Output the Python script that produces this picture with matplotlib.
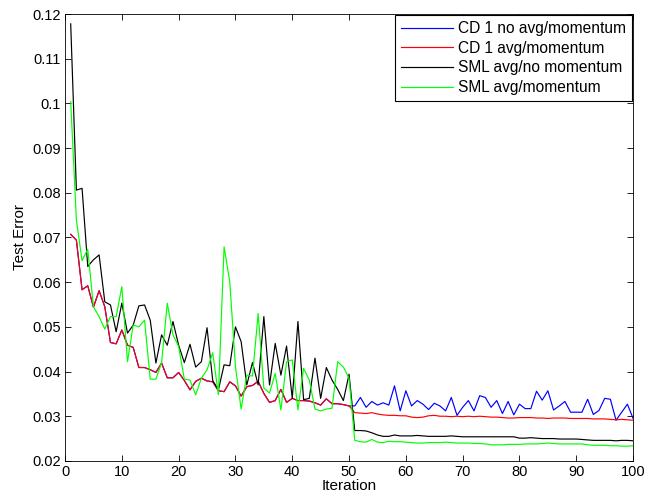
import numpy as np
import matplotlib
matplotlib.use("Agg")
import matplotlib.pyplot as plt
from matplotlib.ticker import FuncFormatter

# test error per iteration
iterations = np.arange(1, 101)

cd1_first = [0.0707, 0.0694, 0.0583, 0.0592, 0.0544, 0.0581, 0.0545, 0.0465, 0.0462, 0.0493,
             0.0459, 0.0454, 0.0409, 0.0409, 0.0404, 0.0398, 0.0419, 0.0386, 0.0386, 0.0398,
             0.0380, 0.0359, 0.0378, 0.0385, 0.0379, 0.0377, 0.0357, 0.0355, 0.0377, 0.0368,
             0.0345, 0.0366, 0.0369, 0.0378, 0.0351, 0.0331, 0.0335, 0.0360, 0.0331, 0.0340,
             0.0335, 0.0335, 0.0334, 0.0330, 0.0325, 0.0339, 0.0328, 0.0328, 0.0326, 0.0323]

cd1_no_avg = cd1_first + [
    0.0323, 0.0342, 0.0320, 0.0333, 0.0325, 0.0330, 0.0325, 0.0368, 0.0312, 0.0357,
    0.0323, 0.0335, 0.0327, 0.0315, 0.0329, 0.0323, 0.0312, 0.0342, 0.0302, 0.0320,
    0.0335, 0.0312, 0.0346, 0.0342, 0.0320, 0.0335, 0.0306, 0.0333, 0.0303, 0.0327,
    0.0317, 0.0317, 0.0356, 0.0336, 0.0357, 0.0314, 0.0323, 0.0333, 0.0309, 0.0309,
    0.0309, 0.0338, 0.0304, 0.0313, 0.0340, 0.0338, 0.0291, 0.0309, 0.0327, 0.0295]

cd1_avg = cd1_first + [
    0.0308, 0.0307, 0.0306, 0.0308, 0.0305, 0.0303, 0.0302, 0.0302, 0.0301, 0.0301,
    0.0298, 0.0297, 0.0298, 0.0301, 0.0302, 0.0300, 0.0300, 0.0299, 0.0300, 0.0299,
    0.0300, 0.0299, 0.0300, 0.0299, 0.0298, 0.0298, 0.0297, 0.0296, 0.0296, 0.0297,
    0.0297, 0.0297, 0.0296, 0.0296, 0.0295, 0.0296, 0.0296, 0.0296, 0.0295, 0.0295,
    0.0295, 0.0295, 0.0294, 0.0294, 0.0294, 0.0293, 0.0292, 0.0293, 0.0292, 0.0291]

sml_no_mom = [0.1178, 0.0806, 0.0810, 0.0635, 0.0650, 0.0661, 0.0556, 0.0549, 0.0489, 0.0553,
              0.0486, 0.0504, 0.0547, 0.0549, 0.0515, 0.0419, 0.0482, 0.0459, 0.0512, 0.0459,
              0.0420, 0.0461, 0.0410, 0.0422, 0.0498, 0.0380, 0.0359, 0.0415, 0.0413, 0.0500,
              0.0467, 0.0370, 0.0420, 0.0370, 0.0523, 0.0370, 0.0463, 0.0392, 0.0457, 0.0340,
              0.0512, 0.0337, 0.0340, 0.0430, 0.0340, 0.0409, 0.0381, 0.0360, 0.0335, 0.0394,
              0.0268, 0.0268, 0.0267, 0.0263, 0.0258, 0.0255, 0.0255, 0.0258, 0.0256, 0.0256,
              0.0256, 0.0257, 0.0256, 0.0255, 0.0255, 0.0255, 0.0255, 0.0256, 0.0255, 0.0254,
              0.0254, 0.0254, 0.0254, 0.0254, 0.0254, 0.0254, 0.0254, 0.0254, 0.0254, 0.0251,
              0.0251, 0.0252, 0.0251, 0.0250, 0.0250, 0.0250, 0.0249, 0.0249, 0.0249, 0.0249,
              0.0248, 0.0247, 0.0246, 0.0246, 0.0246, 0.0246, 0.0245, 0.0246, 0.0246, 0.0245]

sml_mom = [0.1004, 0.0739, 0.0648, 0.0674, 0.0545, 0.0523, 0.0495, 0.0523, 0.0523, 0.0590,
           0.0422, 0.0504, 0.0500, 0.0515, 0.0383, 0.0383, 0.0420, 0.0553, 0.0482, 0.0456,
           0.0383, 0.0381, 0.0348, 0.0385, 0.0404, 0.0442, 0.0348, 0.0679, 0.0601, 0.0411,
           0.0316, 0.0392, 0.0390, 0.0530, 0.0363, 0.0352, 0.0396, 0.0314, 0.0422, 0.0426,
           0.0314, 0.0407, 0.0381, 0.0316, 0.0312, 0.0316, 0.0318, 0.0422, 0.0410, 0.0385,
           0.0246, 0.0243, 0.0242, 0.0248, 0.0242, 0.0241, 0.0244, 0.0243, 0.0243, 0.0242,
           0.0241, 0.0240, 0.0240, 0.0241, 0.0241, 0.0241, 0.0242, 0.0241, 0.0240, 0.0240,
           0.0240, 0.0239, 0.0239, 0.0238, 0.0236, 0.0236, 0.0236, 0.0237, 0.0237, 0.0237,
           0.0238, 0.0238, 0.0238, 0.0239, 0.0240, 0.0239, 0.0238, 0.0238, 0.0238, 0.0238,
           0.0238, 0.0236, 0.0235, 0.0235, 0.0235, 0.0234, 0.0234, 0.0233, 0.0233, 0.0234]

labels = ["CD 1 no avg/momentum", "CD 1 avg/momentum",
          "SML avg/no momentum", "SML avg/momentum"]
colors = ["#0000ff", "#ff0000", "#000000", "#00ff00"]

plt.rcParams["font.family"] = ["Liberation Sans", "DejaVu Sans"]
plt.rcParams["font.size"] = 11

fig = plt.figure(figsize=(6.47, 5.01), dpi=100)
ax = fig.add_axes([0.1005, 0.080, 0.878, 0.892])

for y, lab, c in zip([cd1_no_avg, cd1_avg, sml_no_mom, sml_mom], labels, colors):
    ax.plot(iterations, y, color=c, lw=0.85, label=lab)

ax.set_xlim(0, 100)
ax.set_ylim(0.02, 0.12)
ax.set_xticks(np.arange(0, 101, 10))
ax.set_yticks(np.arange(0.02, 0.1201, 0.01))
ax.yaxis.set_major_formatter(FuncFormatter(lambda v, p: "%g" % round(v, 3)))
ax.tick_params(direction="in", top=True, right=True, length=4.5, width=0.6,
               labelsize=10.5, pad=3)
for s in ax.spines.values():
    s.set_linewidth(0.6)

ax.set_xlabel("Iteration", labelpad=0)
ax.set_ylabel("Test Error", labelpad=4)

leg = ax.legend(loc="upper right", fancybox=False, framealpha=1, edgecolor="black",
                borderaxespad=0.05, handlelength=3.3, handletextpad=0.35,
                borderpad=0.4, labelspacing=0.3, fontsize=11.2)
leg.get_frame().set_linewidth(0.8)

fig.savefig("out.png", dpi=100)
